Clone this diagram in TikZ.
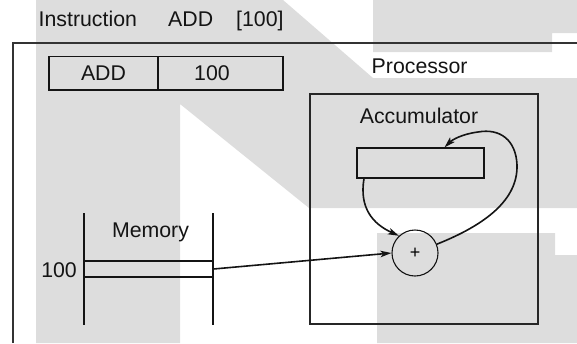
\documentclass[tikz,border=0pt]{standalone}
\usepackage{fontspec}
\setmainfont{Liberation Sans}
\usetikzlibrary{arrows.meta}
\definecolor{wm}{RGB}{221,221,221}
\definecolor{ink}{RGB}{20,20,20}
\begin{document}
\begin{tikzpicture}[x=1pt,y=-1pt,
  lbl/.style={inner sep=0pt, text=ink, font=\fontsize{21.3}{25}\selectfont},
  reg/.style={draw=ink, line width=1.2pt, inner sep=0pt},
  wire/.style={draw=ink, line width=1.1pt},
  flow/.style={draw=ink, line width=1.6pt, -{Stealth[length=11pt,width=6.5pt,inset=2.5pt]}},
]
\useasboundingbox (0,0) rectangle (577,343);
% background letter shapes
\fill[wm] (36,0) -- (283,0) -- (373,78) -- (577,78) -- (577,208) -- (309,208)
          -- (180,104) -- (180,343) -- (36,343) -- cycle;
\fill[wm] (373,0) -- (577,0) -- (577,33) -- (552,33) -- (552,52) -- (373,52) -- cycle;
\fill[wm] (377,233) -- (555,233) -- (555,255) -- (577,255) -- (577,343) -- (377,343) -- cycle;

% heading
\node[lbl, anchor=base west] (hinstr) at (38.5,26) {Instruction};
\node[lbl, anchor=base west] (hop) at (168,26) {ADD};
\node[lbl, anchor=base west] (harg) at (236,26) {[100]};

% computer frame (runs off the page)
\draw[line width=1.3pt, draw=black!80] (13,343) -- (13,43) -- (577,43);

% instruction register
\node[reg, minimum width=109pt, minimum height=33.5pt] (opc) at (103.5,73.3) {};
\node[reg, minimum width=125pt, minimum height=33.5pt] (opd) at (220.5,73.3) {};
\node[lbl] (opctext) at (opc.center) {ADD};
\node[lbl] (opdtext) at ([xshift=-8.5pt]opd.center) {100};

% processor
\node[lbl, anchor=base west] (proclbl) at (371.5,73) {Processor};
\node[draw=black!85, line width=1.3pt, minimum width=228pt, minimum height=230pt, inner sep=0pt] (proc) at (424,209) {};
\node[lbl, anchor=base] (acclbl) at (419,123) {Accumulator};
\node[reg, minimum width=127pt, minimum height=30pt] (acc) at (420.5,163) {};
\node[draw=ink, circle, line width=1.1pt, minimum size=46pt, inner sep=0pt,
      font=\fontsize{18}{20}\selectfont] (adder) at (415,253) {+};

% memory
\coordinate (mtl) at (84,213);
\coordinate (mbl) at (84,325);
\coordinate (mtr) at (213,213);
\coordinate (mbr) at (213,325);
\draw[wire] (mtl) -- (mbl);
\draw[wire] (mtr) -- (mbr);
\node[reg, line width=1.1pt, minimum width=129pt, minimum height=16pt] (cell) at (148.5,269) {};
\node[lbl, anchor=base] (memlbl) at (150.5,237) {Memory};
\node[lbl, anchor=base east] (addr) at (77,277) {100};

% data paths
\draw[flow] (cell.east) -- (adder.west);
\draw[flow] ([xshift=-56.5pt]acc.south) .. controls (359,208) and (373,224) .. (adder.133);
\draw[flow] (adder.22) .. controls (485,225) and (518,200) .. (517,165)
  .. controls (516,140) and (500,128) .. (478,132)
  .. controls (462,134) and (452,140) .. ([xshift=24pt]acc.north);
\end{tikzpicture}
\end{document}
